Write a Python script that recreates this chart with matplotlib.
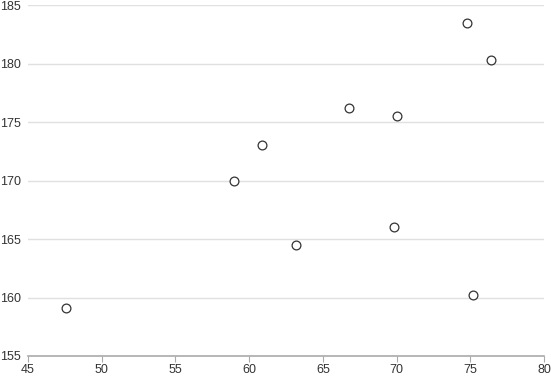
import matplotlib.pyplot as plt

plt.rcParams['font.family'] = ['Liberation Sans', 'DejaVu Sans']

weight = [74.8, 76.4, 66.8, 70.0, 60.9, 59.0, 63.2, 69.8, 75.2, 47.6]
height = [183.5, 180.3, 176.2, 175.5, 173.0, 170.0, 164.5, 166.0, 160.2, 159.1]

fig = plt.figure(figsize=(5.51, 3.77), dpi=100)
ax = fig.add_axes([28 / 551, 21 / 377, 516 / 551, 351 / 377])

ax.scatter(weight, height, s=40, facecolors='white', edgecolors='#333333',
           linewidths=0.9, zorder=3, clip_on=False)

ax.set_xlim(45, 80)
ax.set_ylim(155, 185)
ax.set_xticks(range(45, 81, 5))
ax.set_yticks(range(155, 186, 5))

ax.grid(axis='y', color='#e0e0e0', linewidth=1)
ax.set_axisbelow(True)
for s in ['top', 'right', 'left']:
    ax.spines[s].set_visible(False)
ax.spines['bottom'].set_color('#aaaaaa')
ax.spines['bottom'].set_linewidth(1.2)

ax.tick_params(axis='x', colors='#aaaaaa', length=4, labelcolor='#333333', labelsize=9, pad=2)
ax.tick_params(axis='y', length=0, labelcolor='#333333', labelsize=9, pad=5)

fig.savefig('out.png', dpi=100)
